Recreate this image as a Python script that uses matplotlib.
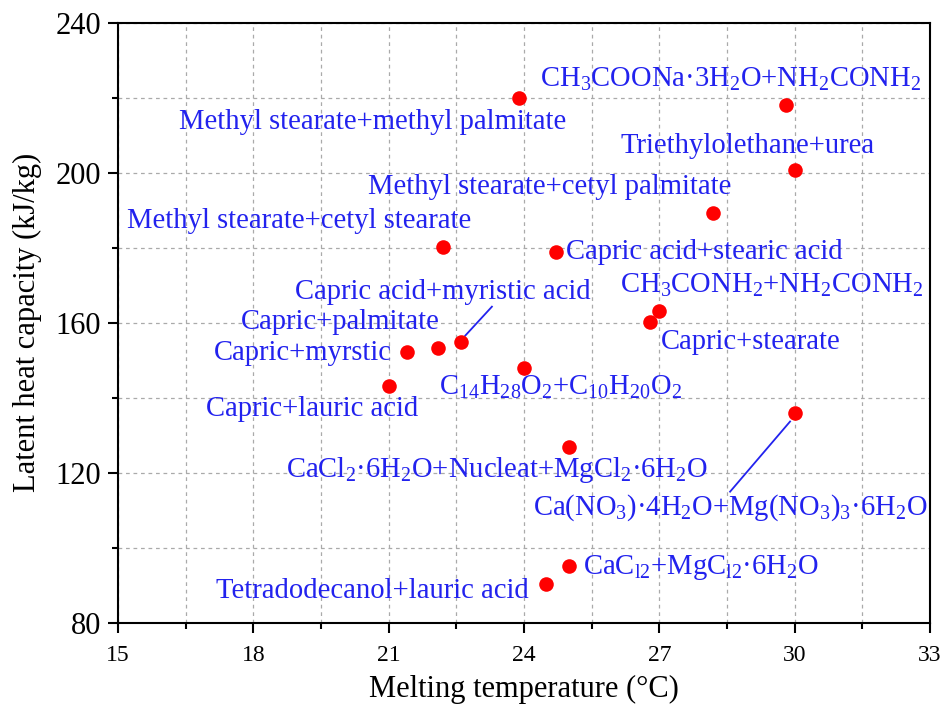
import matplotlib
matplotlib.use('Agg')
import matplotlib.pyplot as plt
from matplotlib.ticker import MultipleLocator

plt.rcParams['font.family'] = ['Liberation Serif', 'DejaVu Serif']
plt.rcParams['mathtext.fontset'] = 'custom'
plt.rcParams['mathtext.rm'] = 'Liberation Serif'
plt.rcParams['mathtext.it'] = 'Liberation Serif:italic'
plt.rcParams['mathtext.default'] = 'rm'

# data: melting temperature (C), latent heat (kJ/kg)
names = [
    'CH$_3$COONa·3H$_2$O+NH$_2$CONH$_2$',
    'Methyl stearate+methyl palmitate',
    'Triethylolethane+urea',
    'Methyl stearate+cetyl palmitate',
    'Methyl stearate+cetyl stearate',
    'Capric acid+stearic acid',
    'CH$_3$CONH$_2$+NH$_2$CONH$_2$',
    'Capric acid+myristic acid',
    'Capric+palmitate',
    'Capric+myrstic',
    'Capric+lauric acid',
    'C$_{14}$H$_{28}$O$_2$+C$_{10}$H$_{20}$O$_2$',
    'Capric+stearate',
    'CaCl$_2$·6H$_2$O+Nucleat+MgCl$_2$·6H$_2$O',
    'Ca(NO$_3$)·4H$_2$O+Mg(NO$_3$)$_3$·6H$_2$O',
    'CaC$_{l2}$+MgC$_{l2}$·6H$_2$O',
    'Tetradodecanol+lauric acid',
]
melt_temp = [29.8, 23.9, 30.0, 28.2, 22.2, 24.7, 27.0, 22.6, 22.1, 21.4, 21.0,
             24.0, 26.8, 25.0, 30.0, 25.0, 24.5]
latent_heat = [218, 220, 200.6, 189.3, 180.3, 178.9, 163.2, 155, 153.2, 152.1, 143.2,
               148, 160.3, 127, 136, 95.2, 90.4]

# label layout: (x, y, ha) in data units
label_pos = [
    (24.36, 224.8, 'left'), (20.65, 213.6, 'center'), (28.95, 207.2, 'center'),
    (24.57, 196.3, 'center'), (19.02, 187.2, 'center'), (24.93, 178.9, 'left'),
    (29.49, 169.9, 'center'), (22.2, 168.3, 'center'), (19.92, 160.3, 'center'),
    (19.11, 152.0, 'center'), (19.31, 137.1, 'center'), (24.81, 142.7, 'center'),
    (29.02, 154.9, 'center'), (23.41, 120.8, 'center'), (28.58, 110.7, 'center'),
    (25.31, 94.7, 'left'), (20.63, 88.5, 'center'),
]
# leader lines: index -> (x_start, y_start, x_end, y_end)
leaders = {7: (22.7, 156.6, 23.29, 164.3), 14: (29.9, 133.7, 28.57, 115.0)}

fig = plt.figure(figsize=(9.46, 7.07), dpi=100)
ax = fig.add_axes([0.1247, 0.1188, 0.8583, 0.8492])

ax.set_xlim(15, 33)
ax.set_ylim(80, 240)
ax.xaxis.set_major_locator(MultipleLocator(3))
ax.xaxis.set_minor_locator(MultipleLocator(1.5))
ax.yaxis.set_major_locator(MultipleLocator(40))
ax.yaxis.set_minor_locator(MultipleLocator(20))
ax.grid(True, which='both', color='#aaaaaa', linestyle=(0, (3, 3)), linewidth=0.9)
ax.set_axisbelow(True)
ax.tick_params(which='major', direction='out', length=7, width=1.5)
ax.tick_params(which='minor', direction='out', length=4, width=1.5)
ax.tick_params(axis='x', labelsize=17, pad=9)
ax.tick_params(axis='y', labelsize=22, pad=5)
for s in ax.spines.values():
    s.set_linewidth(1.5)

ax.scatter(melt_temp, latent_heat, s=110, color='#ff0000', zorder=3, linewidths=0)

for i, (name, (lx, ly, ha)) in enumerate(zip(names, label_pos)):
    ax.text(lx, ly, name, ha=ha, va='center', fontsize=20.6, color='#2222ee', zorder=4)
for i, (x0, y0, x1, y1) in leaders.items():
    ax.plot([x0, x1], [y0, y1], color='#2222ee', linewidth=1.3, zorder=2)

ax.set_xlabel('Melting temperature (°C)', fontsize=22, labelpad=6)
ax.set_ylabel('Latent heat capacity (kJ/kg)', fontsize=22, labelpad=10)

fig.savefig('out.png', dpi=100)
